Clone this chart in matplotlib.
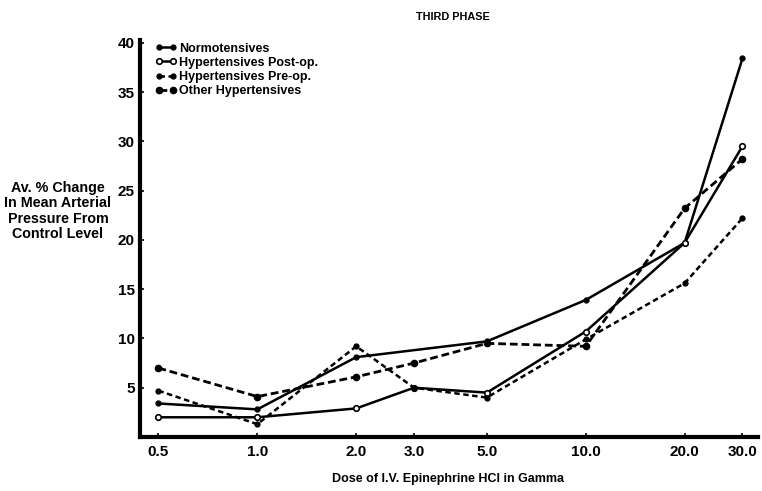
import matplotlib
matplotlib.use("Agg")
import matplotlib.pyplot as plt

plt.rcParams['font.family'] = ['Liberation Sans', 'DejaVu Sans']

doses = [0.5, 1.0, 2.0, 3.0, 5.0, 10.0, 20.0, 30.0]
dose_labels = ["0.5", "1.0", "2.0", "3.0", "5.0", "10.0", "20.0", "30.0"]

normo_x = [0.5, 1.0, 2.0, 5.0, 10.0, 20.0, 30.0]
normo_y = [3.4, 2.8, 8.1, 9.7, 13.9, 19.7, 38.4]

postop_x = [0.5, 1.0, 2.0, 3.0, 5.0, 10.0, 20.0, 30.0]
postop_y = [2.0, 2.0, 2.9, 5.0, 4.5, 10.7, 19.7, 29.5]

preop_x = [0.5, 1.0, 2.0, 3.0, 5.0, 10.0, 20.0, 30.0]
preop_y = [4.7, 1.3, 9.2, 5.0, 4.0, 9.9, 15.6, 22.2]

other_x = [0.5, 1.0, 2.0, 3.0, 5.0, 10.0, 20.0, 30.0]
other_y = [7.0, 4.1, 6.1, 7.5, 9.5, 9.2, 23.2, 28.2]

y_ticks = [5, 10, 15, 20, 25, 30, 35, 40]
series_names = ["Normotensives", "Hypertensives Post-op.",
                "Hypertensives Pre-op.", "Other Hypertensives"]

fig = plt.figure(figsize=(7.62, 4.91), dpi=100)
ax = fig.add_axes([0.184, 0.110, 0.811, 0.809])

ax.plot(normo_x, normo_y, color='black', lw=1.8, marker='o', ms=3.5,
        mfc='black', label=series_names[0])
ax.plot(postop_x, postop_y, color='black', lw=1.8, marker='o', ms=4,
        mfc='white', mew=1.2, label=series_names[1])
ax.plot(preop_x, preop_y, color='black', lw=1.8, ls=(0, (2.2, 1.4)),
        marker='o', ms=3.5, mfc='black', label=series_names[2])
ax.plot(other_x, other_y, color='black', lw=2.0, ls=(0, (2.8, 1.4)),
        marker='o', ms=4.5, mfc='black', label=series_names[3])

ax.set_xscale('log')
ax.set_xlim(0.44, 33.5)
ax.set_ylim(0, 40.3)
ax.set_xticks(doses)
ax.set_xticklabels(dose_labels, fontweight='bold')
ax.minorticks_off()
ax.set_yticks(y_ticks)
ax.set_yticklabels([str(t) for t in y_ticks], fontweight='bold')

for s in ['top', 'right']:
    ax.spines[s].set_visible(False)
for s in ['left', 'bottom']:
    ax.spines[s].set_linewidth(3)

ax.tick_params(axis='both', direction='in', length=3, width=1.2,
               labelsize=11, pad=4)
ax.tick_params(axis='x', pad=6)

leg = ax.legend(loc='upper left', bbox_to_anchor=(0.012, 1.012), frameon=False,
                prop={'size': 9, 'weight': 'bold'}, numpoints=2,
                handlelength=1.7, handletextpad=0.2,
                labelspacing=0.18, borderaxespad=0.2)

fig.text(0.594, 0.966, "THIRD PHASE", ha='center', va='center', fontsize=7.8,
         fontweight='bold')
fig.text(0.076, 0.570, "Av. % Change\nIn Mean Arterial\nPressure From\nControl Level",
         ha='center', va='center', fontsize=10.3, linespacing=1.12,
         fontweight='bold')
fig.text(0.588, 0.024, "Dose of I.V. Epinephrine HCl in Gamma", ha='center',
         va='center', fontsize=9, fontweight='bold')

fig.savefig("out.png", dpi=100)
